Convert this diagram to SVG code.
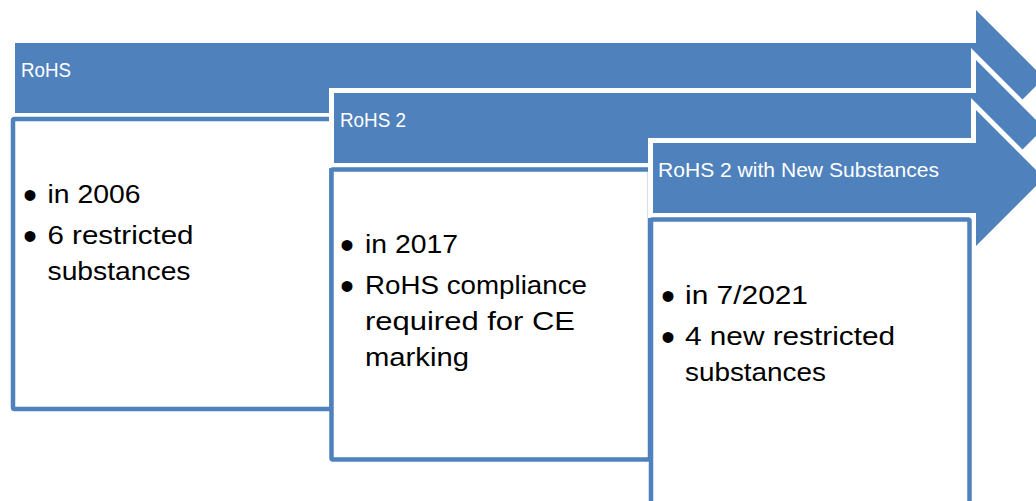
<svg xmlns="http://www.w3.org/2000/svg" xmlns:xlink="http://www.w3.org/1999/xlink" width="1036" height="501" viewBox="0 0 1036 501">
  <style>
    .halo { fill: #ffffff; stroke: #ffffff; stroke-width: 10; stroke-linejoin: miter; }
    .arrow { fill: #4f81bd; stroke: none; }
    .box { fill: #ffffff; stroke: #4f81bd; stroke-width: 4.5; }
    .lbl { font-family: "Liberation Sans", Arial, sans-serif; font-size: 19.5px; fill: #ffffff; }
    .body { font-family: "Liberation Sans", Arial, sans-serif; font-size: 26px; fill: #000000; }
    .bul { font-family: "Liberation Sans", Arial, sans-serif; font-size: 40px; fill: #000000; text-anchor: middle; }
  </style>
  <defs>
    <path id="a1" d="M15,43 H976 V10 L1044,78 L976,146 V113 H15 Z"/>
    <path id="a2" d="M334,93 H976 V60 L1044,128 L976,196 V163 H334 Z"/>
    <path id="a3" d="M653,143 H976 V110 L1044,178 L976,246 V213 H653 Z"/>
  </defs>
  <g id="connectors"></g>
  <g id="node-rohs">
    <use xlink:href="#a1" class="halo"/>
    <use xlink:href="#a1" class="arrow"/>
    <text class="lbl" x="21" y="77" textLength="50" lengthAdjust="spacingAndGlyphs">RoHS</text>
    <rect class="box" x="13" y="119" width="318.5" height="290" rx="1.5"/>
    <text class="bul" x="30" y="209">•</text>
    <text class="body" x="47.5" y="203" textLength="93" lengthAdjust="spacingAndGlyphs">in 2006</text>
    <text class="bul" x="30" y="250">•</text>
    <text class="body" x="47.5" y="244" textLength="146" lengthAdjust="spacingAndGlyphs">6 restricted</text>
    <text class="body" x="47.5" y="280" textLength="143" lengthAdjust="spacingAndGlyphs">substances</text>
  </g>
  <g id="node-rohs2">
    <use xlink:href="#a2" class="halo"/>
    <use xlink:href="#a2" class="arrow"/>
    <text class="lbl" x="340" y="127" textLength="66" lengthAdjust="spacingAndGlyphs">RoHS 2</text>
    <rect class="box" x="331.5" y="169.5" width="318.5" height="290" rx="1.5"/>
    <text class="bul" x="347" y="259">•</text>
    <text class="body" x="365" y="253" textLength="93" lengthAdjust="spacingAndGlyphs">in 2017</text>
    <text class="bul" x="347" y="300">•</text>
    <text class="body" x="365" y="294" textLength="222" lengthAdjust="spacingAndGlyphs">RoHS compliance</text>
    <text class="body" x="365" y="330" textLength="210" lengthAdjust="spacingAndGlyphs">required for CE</text>
    <text class="body" x="365" y="366" textLength="104" lengthAdjust="spacingAndGlyphs">marking</text>
  </g>
  <g id="node-rohs2-new">
    <use xlink:href="#a3" class="halo"/>
    <use xlink:href="#a3" class="arrow"/>
    <text class="lbl" x="658" y="177" textLength="281" lengthAdjust="spacingAndGlyphs">RoHS 2 with New Substances</text>
    <rect class="box" x="651" y="219.5" width="318.5" height="310" rx="1.5"/>
    <text class="bul" x="668" y="310">•</text>
    <text class="body" x="685" y="304" textLength="123" lengthAdjust="spacingAndGlyphs">in 7/2021</text>
    <text class="bul" x="668" y="351">•</text>
    <text class="body" x="685" y="345" textLength="210" lengthAdjust="spacingAndGlyphs">4 new restricted</text>
    <text class="body" x="685" y="381" textLength="141" lengthAdjust="spacingAndGlyphs">substances</text>
  </g>
</svg>
